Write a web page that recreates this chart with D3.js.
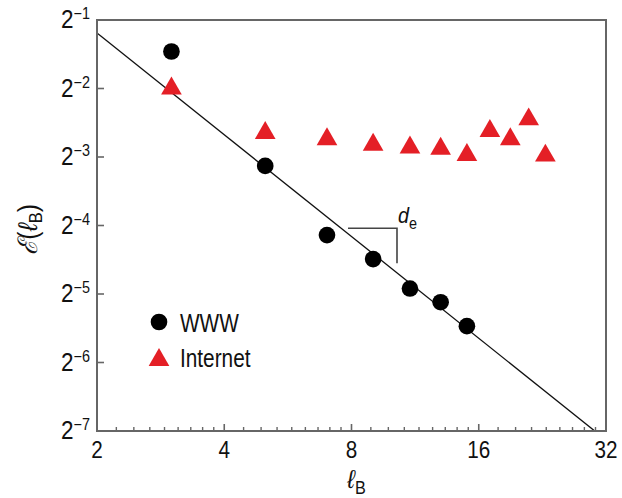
<!DOCTYPE html>
<html>
<head>
<meta charset="utf-8">
<script src="https://cdn.jsdelivr.net/npm/d3@7"></script>
<style>
  html, body { margin: 0; padding: 0; background: #fff; }
  svg { display: block; }
  text { font-family: "Liberation Sans", Arial, sans-serif; fill: #111; }
</style>
</head>
<body>
<svg id="chart" width="622" height="498"></svg>
<script>
// ---- Data ----
const wwwX = [3, 5, 7, 9, 11, 13, 15];
const wwwLog2Y = [-1.46, -3.13, -4.14, -4.49, -4.92, -5.12, -5.47];

const internetX = [3, 5, 7, 9, 11, 13, 15, 17, 19, 21, 23];
const internetLog2Y = [-2.0, -2.65, -2.74, -2.82, -2.86, -2.88, -2.97, -2.62, -2.74, -2.45, -2.98];

// fitted power law line  E ~ l^-d_e  (end points)
const fitX = [2, 30.1];
const fitLog2Y = [-1.19, -7.0];

// d_e bracket annotation (data space)
const bracketX = [7.85, 10.25];
const bracketLog2Y = [-4.04, -4.55];

const xTickValues = [2, 4, 8, 16, 32];
const xTickLabels = ["2", "4", "8", "16", "32"];
const yTickExponents = [-1, -2, -3, -4, -5, -6, -7];

const legendLabels = ["WWW", "Internet"];

// ---- Layout ----
const mL = 97, mR = 606, mT = 20, mB = 431;
const red = "#e41f26";
const axisColor = "#666";

const svg = d3.select("#chart");

const x = d3.scaleLog().base(2).domain([2, 32]).range([mL, mR]);
const y = d3.scaleLog().base(2).domain([Math.pow(2, -7), Math.pow(2, -1)]).range([mB, mT]);
const p2 = e => Math.pow(2, e);

// fit line
svg.append("line")
  .attr("x1", x(fitX[0])).attr("y1", y(p2(fitLog2Y[0])))
  .attr("x2", x(fitX[1])).attr("y2", y(p2(fitLog2Y[1])))
  .attr("stroke", "#111").attr("stroke-width", 1.3);

// bracket
svg.append("path")
  .attr("d", `M${x(bracketX[0])},${y(p2(bracketLog2Y[0]))}H${x(bracketX[1])}V${y(p2(bracketLog2Y[1]))}`)
  .attr("fill", "none").attr("stroke", "#444").attr("stroke-width", 1.6);
const dLabel = svg.append("text")
  .attr("transform", `translate(${x(bracketX[1]) + 1},${y(p2(bracketLog2Y[0])) - 5}) scale(0.9,1)`)
  .style("font-size", "22px");
dLabel.append("tspan").style("font-style", "italic").text("d");
dLabel.append("tspan").attr("dy", 6).style("font-size", "16px").text("e");

// x-axis minor ticks (8 between each octave)
const minor = [];
for (let k = 0; k < xTickValues.length - 1; k++) {
  const a = xTickValues[k], b = xTickValues[k + 1];
  for (let j = 1; j <= 8; j++) minor.push(a + (b - a) * j / 9);
}
svg.append("g").selectAll("line").data(minor).join("line")
  .attr("x1", d => x(d)).attr("x2", d => x(d))
  .attr("y1", mB).attr("y2", mB - 4)
  .attr("stroke", axisColor).attr("stroke-width", 1.4);

// x major ticks
svg.append("g").selectAll("line").data(xTickValues.slice(1, -1)).join("line")
  .attr("x1", d => x(d)).attr("x2", d => x(d))
  .attr("y1", mB).attr("y2", mB - 7)
  .attr("stroke", axisColor).attr("stroke-width", 1.6);

// y ticks
svg.append("g").selectAll("line").data(yTickExponents.slice(1, -1)).join("line")
  .attr("x1", mL).attr("x2", mL + 7)
  .attr("y1", d => y(p2(d))).attr("y2", d => y(p2(d)))
  .attr("stroke", axisColor).attr("stroke-width", 1.6);

// frame
svg.append("rect")
  .attr("x", mL).attr("y", mT)
  .attr("width", mR - mL).attr("height", mB - mT)
  .attr("fill", "none").attr("stroke", axisColor).attr("stroke-width", 2);

// x tick labels
svg.append("g").selectAll("text").data(xTickValues).join("text")
  .attr("transform", d => `translate(${x(d)},${mB + 27}) scale(0.9,1)`)
  .attr("text-anchor", "middle")
  .style("font-size", "23px")
  .text((d, i) => xTickLabels[i]);

// y tick labels
const yl = svg.append("g").selectAll("text").data(yTickExponents).join("text")
  .attr("transform", d => `translate(${mL - 7},${y(p2(d)) + 8}) scale(0.9,1)`)
  .attr("text-anchor", "end")
  .style("font-size", "25px");
yl.append("tspan").text("2");
yl.append("tspan").attr("dy", -9).style("font-size", "16px").text(d => "\u2212" + Math.abs(d));

// axis titles
const xt = svg.append("text")
  .attr("transform", `translate(${(mL + mR) / 2 + 5},488) scale(0.9,1)`)
  .attr("text-anchor", "middle").style("font-size", "26px");
xt.append("tspan").style("font-style", "italic").text("\u2113");
xt.append("tspan").attr("dy", 6).style("font-size", "18px").text("B");

const yt = svg.append("text")
  .attr("transform", `translate(37,${(mT + mB) / 2 + 4}) rotate(-90) scale(0.92,1)`)
  .attr("text-anchor", "middle").style("font-size", "27px");
yt.append("tspan").style("font-family", "DejaVu Serif, serif").style("font-style", "italic").text("\u2130");
yt.append("tspan").text("(");
yt.append("tspan").style("font-style", "italic").text("\u2113");
yt.append("tspan").attr("dy", 5).style("font-size", "18px").text("B");
yt.append("tspan").attr("dy", -5).text(")");

// data points
const circleSym = d3.symbol().type(d3.symbolCircle).size(218);
const triSym = d3.symbol().type(d3.symbolTriangle).size(185);

svg.append("g").selectAll("path").data(internetX).join("path")
  .attr("d", triSym)
  .attr("transform", (d, i) => `translate(${x(d)},${y(p2(internetLog2Y[i]))})`)
  .attr("fill", red);

svg.append("g").selectAll("path").data(wwwX).join("path")
  .attr("d", circleSym)
  .attr("transform", (d, i) => `translate(${x(d)},${y(p2(wwwLog2Y[i]))})`)
  .attr("fill", "#000");

// legend
const lg = svg.append("g");
lg.append("path").attr("d", circleSym).attr("transform", "translate(159,322)").attr("fill", "#000");
lg.append("path").attr("d", triSym).attr("transform", "translate(159,360)").attr("fill", red);
lg.selectAll("text").data(legendLabels).join("text")
  .attr("transform", (d, i) => `translate(180,${332 + i * 35}) scale(0.8,1)`)
  .style("font-size", "26px")
  .text(d => d);
</script>
</body>
</html>
